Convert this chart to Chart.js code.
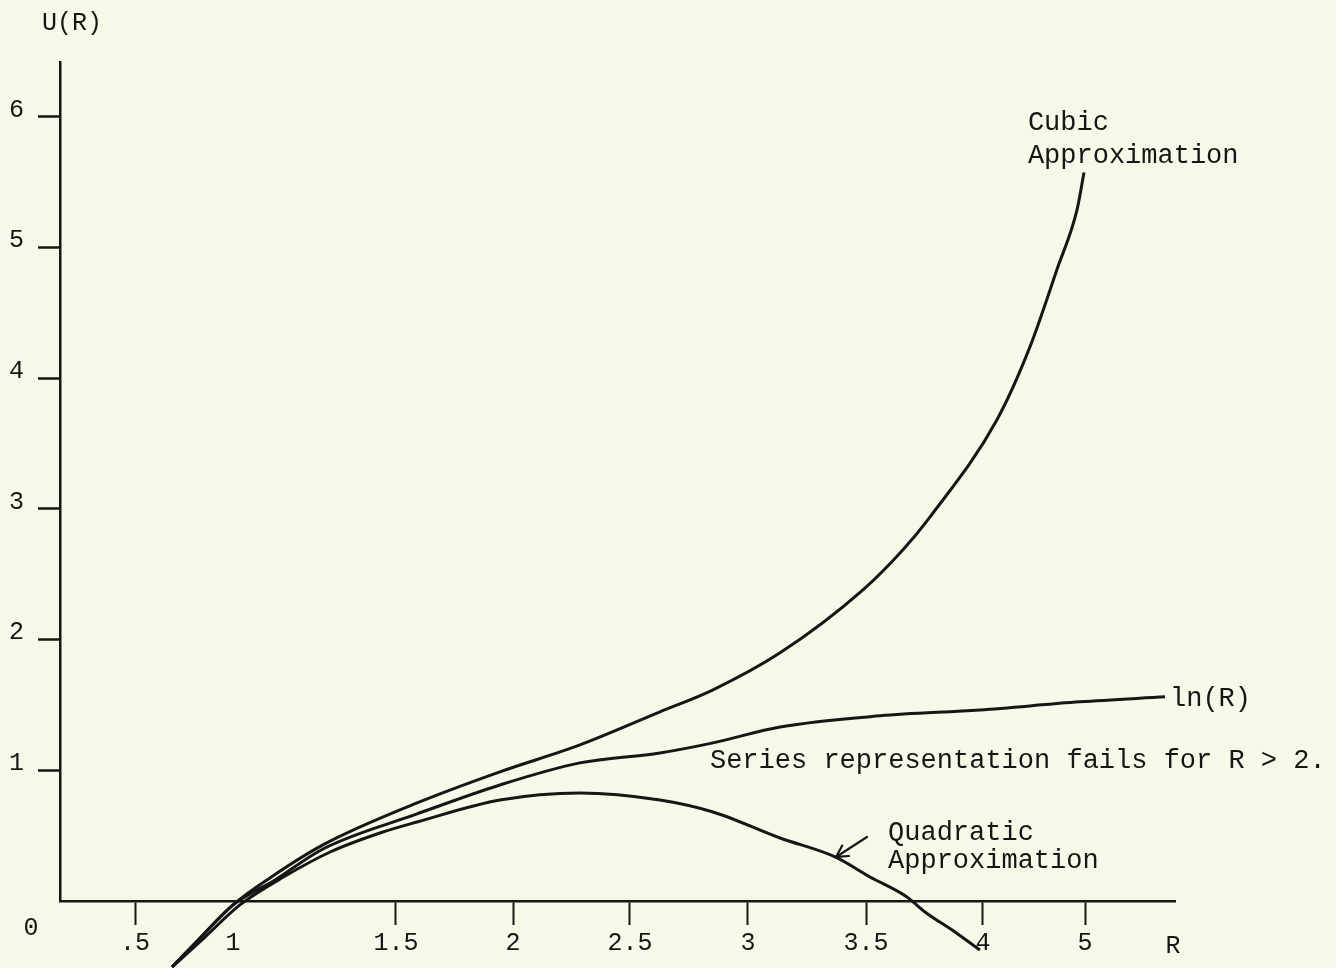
<!DOCTYPE html>
<html><head><meta charset="utf-8">
<script src="https://cdn.jsdelivr.net/npm/chart.js@4.4.1/dist/chart.umd.min.js"></script>
<style>html,body{margin:0;padding:0;background:#f7f8e8;} canvas{display:block;}</style>
</head><body>
<canvas id="c" width="1336" height="968"></canvas>
<script>
// ---- data ----
const xTickValues = [0.5, 1, 1.5, 2, 2.5, 3, 3.5, 4, 5];
const xTickLabels = ['.5', '1', '1.5', '2', '2.5', '3', '3.5', '4', '5'];
const yTickValues = [1, 2, 3, 4, 5, 6];

const cubicR = [0.689, 0.832, 1.0, 1.113, 1.276, 1.590, 1.944, 2.286, 2.627, 2.852, 3.136, 3.487, 3.658, 3.774, 4.137, 4.461, 4.725, 4.922, 4.99];
const cubicU = [-0.505, -0.283, -0.03, 0.176, 0.429, 0.750, 0.988, 1.194, 1.447, 1.616, 1.899, 2.381, 2.688, 2.940, 3.683, 4.242, 4.832, 5.291, 5.574];

const lnR = [0.689, 0.832, 1.0, 1.129, 1.276, 1.590, 1.944, 2.286, 2.627, 2.852, 3.136, 3.560, 3.987, 4.951, 5.80];
const lnU = [-0.505, -0.283, -0.03, 0.161, 0.398, 0.666, 0.888, 1.057, 1.133, 1.210, 1.332, 1.417, 1.462, 1.524, 1.562];

const quadR = [0.689, 0.857, 1.021, 1.160, 1.298, 1.460, 1.590, 1.944, 2.286, 2.627, 2.852, 3.136, 3.369, 3.517, 3.675, 3.752, 3.880, 3.987];
const quadU = [-0.505, -0.276, -0.03, 0.191, 0.375, 0.528, 0.605, 0.773, 0.827, 0.773, 0.681, 0.482, 0.337, 0.184, 0.031, -0.084, -0.237, -0.375];

// ---- hand-drawn (non-uniform) R axis: value knots and their share of the axis length ----
const xAxisKnots = {
  values:    [0, 0.5,    1,      1.5,    2,      2.5,    3,      3.5,    4,      5,      5.9],
  fractions: [0, 0.0673, 0.1552, 0.3013, 0.4063, 0.5112, 0.6170, 0.7229, 0.8278, 0.9193, 1]
};

class PiecewiseScale extends Chart.LinearScale {
  static id = 'piecewise';
  static defaults = Chart.LinearScale.defaults;
  _frac(v) {
    const vs = xAxisKnots.values, fs = xAxisKnots.fractions;
    let i = 0;
    while (i < vs.length - 2 && v > vs[i + 1]) i++;
    return fs[i] + (v - vs[i]) / (vs[i + 1] - vs[i]) * (fs[i + 1] - fs[i]);
  }
  getPixelForValue(v) { return this.left + this._frac(v) * this.width; }
  getValueForPixel(p) {
    const f = (p - this.left) / this.width;
    const vs = xAxisKnots.values, fs = xAxisKnots.fractions;
    let i = 0;
    while (i < fs.length - 2 && f > fs[i + 1]) i++;
    return vs[i] + (f - fs[i]) / (fs[i + 1] - fs[i]) * (vs[i + 1] - vs[i]);
  }
}
Chart.register(PiecewiseScale);

const BG = '#f7f8e8';
const INK = '#161616';
const MONO = '"Liberation Mono", "DejaVu Sans Mono", monospace';

const notes = [
  { text: 'Cubic', r: 4.44, u: 5.90 },
  { text: 'Approximation', r: 4.44, u: 5.65 },
  { text: 'ln(R)', r: 5.85, u: 1.49 },
  { text: 'Series representation fails for R > 2.', r: 2.839, u: 1.018 },
  { text: 'Quadratic', r: 3.594, u: 0.467 },
  { text: 'Approximation', r: 3.594, u: 0.253 }
];
const arrowNote = { from: { r: 3.504, u: 0.49 }, to: { r: 3.373, u: 0.337 } };

const annotPlugin = {
  id: 'annot',
  beforeDraw(chart) {
    const ctx = chart.ctx;
    ctx.save(); ctx.fillStyle = BG; ctx.fillRect(0, 0, chart.width, chart.height); ctx.restore();
  },
  afterDraw(chart) {
    const ctx = chart.ctx, xs = chart.scales.x, ys = chart.scales.y, ca = chart.chartArea;
    ctx.save();
    ctx.fillStyle = INK;
    ctx.font = '27px ' + MONO;
    ctx.textBaseline = 'alphabetic';
    ctx.textAlign = 'left';
    notes.forEach(n => ctx.fillText(n.text, xs.getPixelForValue(n.r), ys.getPixelForValue(n.u)));
    // axis titles
    ctx.font = '25px ' + MONO;
    ctx.fillText('U(R)', ca.left - 18, ca.top - 32);
    ctx.textAlign = 'center';
    ctx.fillText('R', ca.right - 2, ca.bottom + 52);
    ctx.font = '25px ' + MONO;
    ctx.fillText('0', ca.left - 29, ca.bottom + 34);
    // arrow
    const x1 = xs.getPixelForValue(arrowNote.from.r), y1 = ys.getPixelForValue(arrowNote.from.u);
    const x2 = xs.getPixelForValue(arrowNote.to.r), y2 = ys.getPixelForValue(arrowNote.to.u);
    ctx.strokeStyle = INK; ctx.lineWidth = 2.2; ctx.lineCap = 'round';
    ctx.beginPath(); ctx.moveTo(x1, y1); ctx.lineTo(x2, y2); ctx.stroke();
    const a = Math.atan2(y2 - y1, x2 - x1), L = 13;
    ctx.beginPath();
    ctx.moveTo(x2 - L * Math.cos(a - 0.5), y2 - L * Math.sin(a - 0.5));
    ctx.lineTo(x2, y2);
    ctx.lineTo(x2 - L * Math.cos(a + 0.5), y2 - L * Math.sin(a + 0.5));
    ctx.stroke();
    ctx.restore();
  }
};

function series(R, U) { return R.map((r, i) => ({ x: r, y: U[i] })); }
const lineStyle = { borderColor: INK, borderWidth: 3, pointRadius: 0, cubicInterpolationMode: 'monotone', fill: false, clip: false };

new Chart(document.getElementById('c'), {
  type: 'line',
  data: {
    datasets: [
      Object.assign({ label: 'Cubic Approximation', data: series(cubicR, cubicU) }, lineStyle),
      Object.assign({ label: 'ln(R)', data: series(lnR, lnU) }, lineStyle),
      Object.assign({ label: 'Quadratic Approximation', data: series(quadR, quadU) }, lineStyle)
    ]
  },
  options: {
    responsive: false,
    animation: false,
    devicePixelRatio: 1,
    layout: { padding: { top: 62, right: 161, left: 0, bottom: 0 } },
    plugins: { legend: { display: false }, tooltip: { enabled: false } },
    scales: {
      x: {
        type: 'piecewise',
        min: 0, max: 5.9,
        afterBuildTicks: s => { s.ticks = xTickValues.map(v => ({ value: v })); },
        afterFit: s => { s.height = 67; },
        border: { display: true, color: INK, width: 2.5 },
        grid: {
          drawOnChartArea: false, drawTicks: true, tickLength: 24, tickWidth: 2,
          tickColor: c => (c.tick && c.tick.value === 1) ? 'rgba(0,0,0,0)' : INK
        },
        ticks: {
          autoSkip: false, maxRotation: 0, padding: 3, color: INK,
          font: { family: MONO, size: 25 },
          callback: (v, i) => xTickLabels[i]
        }
      },
      y: {
        type: 'linear',
        min: 0, max: 6.42,
        afterBuildTicks: s => { s.ticks = yTickValues.map(v => ({ value: v })); },
        afterFit: s => { s.width = 60; },
        border: { display: true, color: INK, width: 2.5 },
        grid: { drawOnChartArea: false, drawTicks: true, tickLength: 22, tickWidth: 2.5, tickColor: INK },
        ticks: {
          padding: 14, color: INK, labelOffset: -7,
          font: { family: MONO, size: 25 },
          callback: v => String(v)
        }
      }
    }
  },
  plugins: [annotPlugin]
});
</script>
</body></html>
